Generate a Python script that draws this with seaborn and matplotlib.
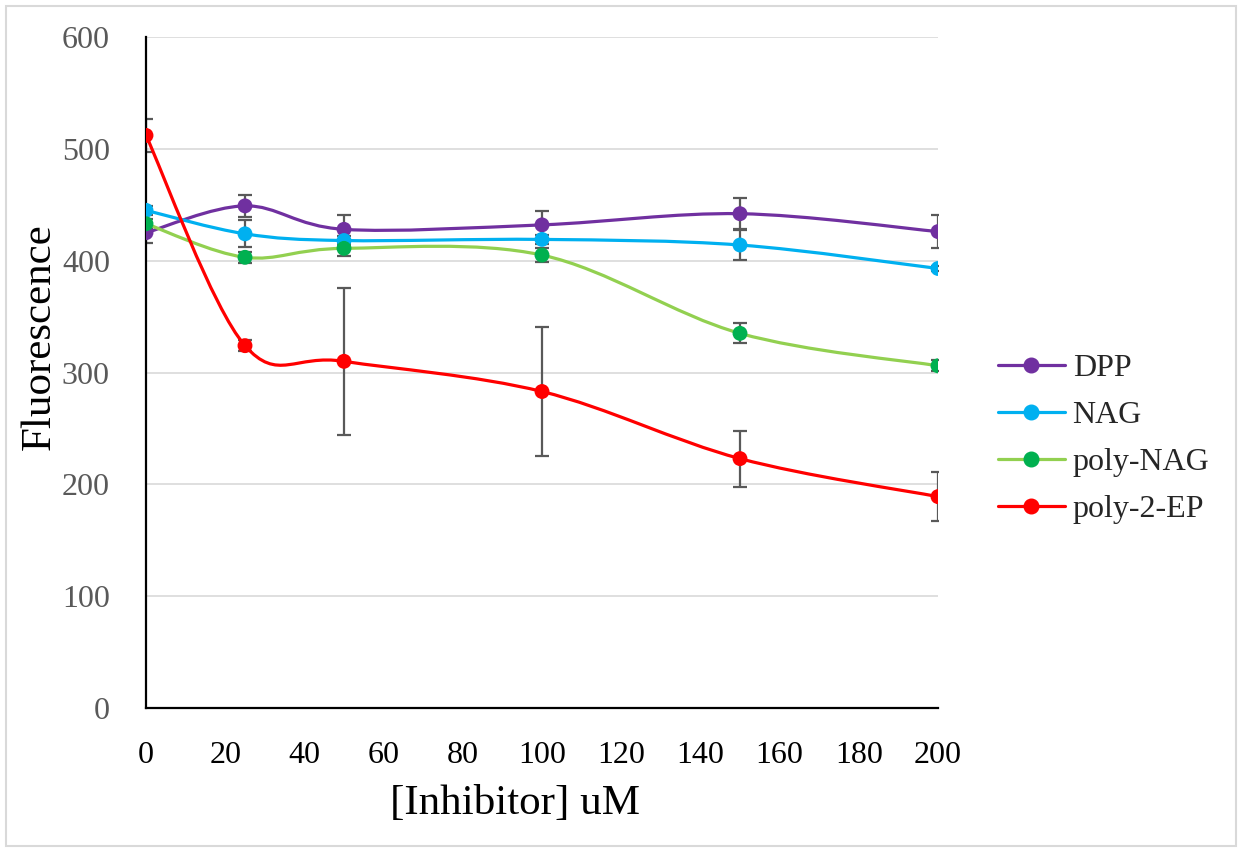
import numpy as np
import pandas as pd
import matplotlib
matplotlib.use("Agg")
import matplotlib.pyplot as plt
from matplotlib.path import Path
from matplotlib.patches import PathPatch, Rectangle
from matplotlib.lines import Line2D
import seaborn as sns

# ---- data ----
conc = [0, 25, 50, 100, 150, 200]
series_names = ["DPP", "NAG", "poly-NAG", "poly-2-EP"]
dpp = [425, 449, 428, 432, 442, 426]
dpp_err = [9, 10, 13, 12, 14, 15]
nag = [445, 424, 418, 419, 414, 393]
nag_err = [4, 12, 4, 4, 13, 2]
polynag = [433, 403, 411, 405, 335, 306]
polynag_err = [4, 5, 7, 6, 9, 5]
poly2ep = [512, 324, 310, 283, 223, 189]
poly2ep_err = [15, 5, 66, 58, 25, 22]

line_colors = ["#7030A0", "#00B0F0", "#92D050", "#FF0000"]
marker_colors = ["#7030A0", "#00B0F0", "#00B050", "#FF0000"]
values = [dpp, nag, polynag, poly2ep]
errors = [dpp_err, nag_err, polynag_err, poly2ep_err]

rows = []
for name, v, e in zip(series_names, values, errors):
    for x, y, err in zip(conc, v, e):
        rows.append({"series": name, "conc": x, "value": y, "err": err})
df = pd.DataFrame(rows)

sns.set_theme(style="white")
plt.rcParams["font.family"] = ["Liberation Serif", "DejaVu Serif"]

fig = plt.figure(figsize=(12.42, 8.52), dpi=100)
ax = fig.add_axes([146 / 1242, 1 - 708 / 852, (938 - 146) / 1242, (708 - 37) / 852])

def smooth_path(xs, ys):
    xs = np.asarray(xs, float); ys = np.asarray(ys, float)
    pts = np.column_stack([xs, ys])
    n = len(pts)
    verts = [pts[0]]
    codes = [Path.MOVETO]
    for i in range(n - 1):
        p0 = pts[i - 1] if i > 0 else pts[i]
        p1 = pts[i]
        p2 = pts[i + 1]
        p3 = pts[i + 2] if i + 2 < n else pts[i + 1]
        c1 = p1 + (p2 - p0) / 6.0
        c2 = p2 - (p3 - p1) / 6.0
        verts += [c1, c2, p2]
        codes += [Path.CURVE4] * 3
    return Path(verts, codes)

for name, lc, mc in zip(series_names, line_colors, marker_colors):
    sub = df[df["series"] == name]
    ax.errorbar(sub["conc"], sub["value"], yerr=sub["err"], fmt="none",
                ecolor="#595959", elinewidth=1.6, capsize=5, capthick=1.6, zorder=2)
    patch = PathPatch(smooth_path(sub["conc"], sub["value"]), facecolor="none",
                      edgecolor=lc, lw=2.3, zorder=3, capstyle="round")
    ax.add_patch(patch)

for name, mc in zip(series_names, marker_colors):
    sub = df[df["series"] == name]
    sns.scatterplot(data=sub, x="conc", y="value", ax=ax, color=mc, s=115,
                    edgecolor="none", zorder=4, legend=False)

ax.set_xlim(0, 200)
ax.set_ylim(0, 600)
ax.set_xticks(np.arange(0, 201, 20))
ax.set_yticks(np.arange(0, 601, 100))
ax.yaxis.grid(True, color="#D9D9D9", lw=1.2)
ax.xaxis.grid(False)
ax.set_axisbelow(True)
for s in ["top", "right"]:
    ax.spines[s].set_visible(False)
for s in ["left", "bottom"]:
    ax.spines[s].set_visible(True)
    ax.spines[s].set_color("black")
    ax.spines[s].set_linewidth(1.6)
ax.tick_params(axis="y", length=0, pad=26, labelsize=23, labelcolor="#595959")
ax.tick_params(axis="x", length=0, pad=24, labelsize=23, labelcolor="black")
ax.set_xlabel("[Inhibitor] uM", fontsize=31, color="black", labelpad=10, x=0.466)
ax.set_ylabel("Fluorescence", fontsize=31, color="black", labelpad=2, y=0.554)

handles = [Line2D([0], [0], color=lc, lw=2.3, marker="o", markersize=10.5,
                  markerfacecolor=mc, markeredgecolor=mc)
           for lc, mc in zip(line_colors, marker_colors)]
fig.legend(handles, series_names, loc="center left", bbox_to_anchor=(0.780, 0.4845),
           frameon=False, fontsize=23, handlelength=2.1, handletextpad=0.25,
           labelspacing=0.55, numpoints=1)

fig.patches.append(Rectangle((6 / 1242, 6 / 852), 1 - 12 / 1242, 1 - 12 / 852,
                             transform=fig.transFigure, fill=False,
                             edgecolor="#D9D9D9", lw=1.5))

fig.savefig("out.png", dpi=100, facecolor="white")
